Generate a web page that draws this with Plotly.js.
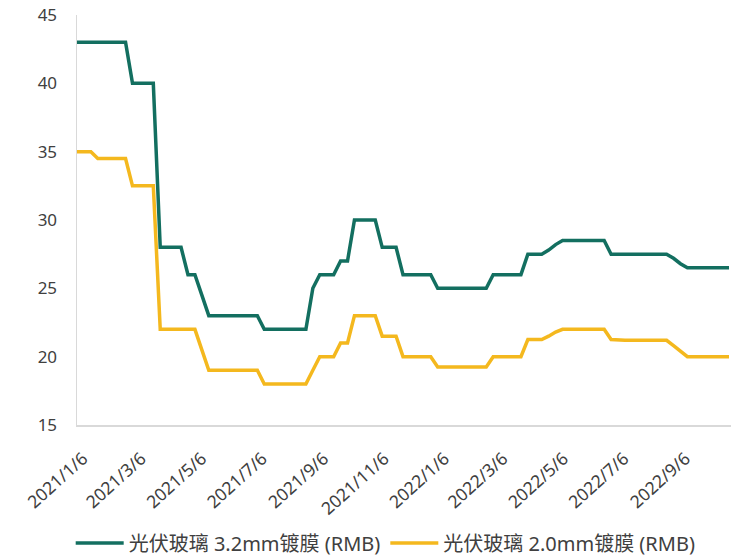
<!DOCTYPE html>
<html>
<head>
<meta charset="utf-8">
<script src="https://cdn.plot.ly/plotly-3.0.1.min.js"></script>
<style>html,body{margin:0;padding:0;background:#fff;}#chart{width:739px;height:557px;}</style>
</head>
<body>
<div id="chart"></div>
<script>
// Weekly observations starting 2021/1/6
const startDate = "2021-01-06";
const glass32 = [
  43,43,43,43,43,43,43,43,40,40,
  40,40,28,28,28,28,26,26,24.5,23,
  23,23,23,23,23,23,23,22,22,22,
  22,22,22,22,25,26,26,26,27,27,
  30,30,30,30,28,28,28,26,26,26,
  26,26,25,25,25,25,25,25,25,25,
  26,26,26,26,26,27.5,27.5,27.5,27.8,28.2,
  28.5,28.5,28.5,28.5,28.5,28.5,28.5,27.5,27.5,27.5,
  27.5,27.5,27.5,27.5,27.5,27.5,27.2,26.8,26.5,26.5,
  26.5,26.5,26.5,26.5,26.5
];
const glass20 = [
  35,35,35,34.5,34.5,34.5,34.5,34.5,32.5,32.5,
  32.5,32.5,22,22,22,22,22,22,20.5,19,
  19,19,19,19,19,19,19,18,18,18,
  18,18,18,18,19,20,20,20,21,21,
  23,23,23,23,21.5,21.5,21.5,20,20,20,
  20,20,19.25,19.25,19.25,19.25,19.25,19.25,19.25,19.25,
  20,20,20,20,20,21.25,21.25,21.25,21.5,21.8,
  22,22,22,22,22,22,22,21.25,21.2,21.2,
  21.2,21.2,21.2,21.2,21.2,21.2,20.8,20.4,20,20,
  20,20,20,20,20
];
const tickDates = ["2021-01-06","2021-03-06","2021-05-06","2021-07-06","2021-09-06","2021-11-06","2022-01-06","2022-03-06","2022-05-06","2022-07-06","2022-09-06"];
const tickLabels = ["2021/1/6","2021/3/6","2021/5/6","2021/7/6","2021/9/6","2021/11/6","2022/1/6","2022/3/6","2022/5/6","2022/7/6","2022/9/6"];
const seriesNames = ["光伏玻璃 3.2mm镀膜 (RMB)","光伏玻璃 2.0mm镀膜 (RMB)"];

function weekDates(n){
  const out=[]; const d0=new Date(startDate+"T00:00:00Z");
  for(let i=0;i<n;i++){ const d=new Date(d0.getTime()+i*7*86400000); out.push(d.toISOString().slice(0,10)); }
  return out;
}
const dates = weekDates(glass32.length);

const font = "Noto Sans, Noto Sans CJK SC, sans-serif";
const traces = [
  {x:dates, y:glass32, name:seriesNames[0], type:"scatter", mode:"lines", line:{color:"#136F60", width:3.5}},
  {x:dates, y:glass20, name:seriesNames[1], type:"scatter", mode:"lines", line:{color:"#F4B81E", width:3.5}}
];
const layout = {
  width:739, height:557,
  margin:{l:77, r:8, t:15, b:132, autoexpand:false},
  paper_bgcolor:"#fff", plot_bgcolor:"#fff",
  font:{family:font, size:16, color:"#404040"},
  showlegend:true,
  legend:{orientation:"h", x:0.472, xanchor:"center", y:-0.288, yanchor:"middle", font:{size:20, color:"#404040"}, itemwidth:48, tracegroupgap:0},
  xaxis:{type:"date", range:["2021-01-06","2022-10-28"], tickmode:"array", tickvals:tickDates, ticktext:tickLabels, automargin:false,
    tickangle:-42, showgrid:false, zeroline:false, showline:true, linecolor:"#d9d9d9", linewidth:1.5, ticks:"", ticklabelshift:6, ticklabelstandoff:15, tickfont:{size:17.5, color:"#404040"}},
  yaxis:{range:[15,45], dtick:5, tick0:15, showgrid:false, zeroline:false, showline:true, linecolor:"#d9d9d9", linewidth:1.5, ticks:"", automargin:false, ticklabelstandoff:15, tickfont:{size:17, color:"#404040"}}
};
Plotly.newPlot("chart", traces, layout, {displayModeBar:false, staticPlot:true});
</script>
</body>
</html>
